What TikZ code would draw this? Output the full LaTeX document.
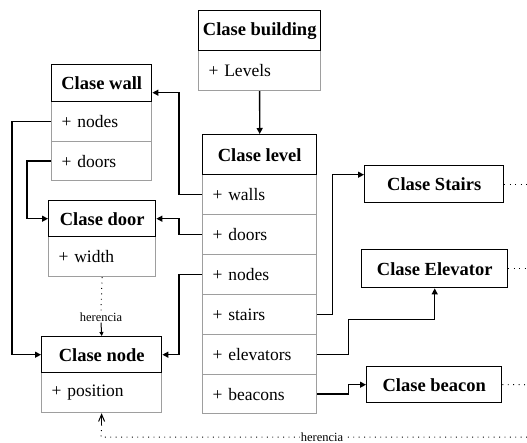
\documentclass[tikz,border=0pt]{standalone}
\usepackage{fontspec}
\setmainfont{Liberation Serif}
\usetikzlibrary{arrows.meta,calc}
\begin{document}
\begin{tikzpicture}[x=1pt,y=-1pt,
  hdr/.style={draw=black,line width=1.4pt,fill=white,anchor=north west,inner sep=0pt,
    font=\bfseries\fontsize{18.5}{20}\selectfont},
  rowbox/.style={draw=black!38,line width=1.2pt,anchor=north west,inner xsep=10pt,inner ysep=0pt,
    text width=#1-20pt,minimum width=#1,align=left,font=\fontsize{17.5}{20}\selectfont},
  conn/.style={line width=1.3pt,-{Triangle[length=6pt,width=6pt]}},
  dots/.style={line width=1pt,dash pattern=on 0.9pt off 4.5pt},
  lbl/.style={font=\fontsize{12.5}{14}\selectfont,inner sep=1pt,fill=white}
]
\useasboundingbox (0,0) rectangle (527,443);
% building
\node[rowbox=122pt,minimum height=40pt] (br) at (198,50) {+ Levels};
\node[hdr,minimum width=122pt,minimum height=40pt] (bh) at (198,10) {Clase building};
% level
\node[rowbox=114pt,minimum height=40pt] (lwalls) at (202,174) {+ walls};
\node[rowbox=114pt,minimum height=40pt] (ldoors) at (202,214) {+ doors};
\node[rowbox=114pt,minimum height=40pt] (lnodes) at (202,254) {+ nodes};
\node[rowbox=114pt,minimum height=40pt] (lstairs) at (202,294) {+ stairs};
\node[rowbox=114pt,minimum height=40pt] (lelev) at (202,334) {+ elevators};
\node[rowbox=114pt,minimum height=39pt] (lbeac) at (202,374) {+ beacons};
\node[hdr,minimum width=114pt,minimum height=40pt] (lh) at (202,134) {Clase level};
% wall
\node[rowbox=100pt,minimum height=40pt] (wnodes) at (51,101) {+ nodes};
\node[rowbox=100pt,minimum height=39pt] (wdoors) at (51,141) {+ doors};
\node[hdr,minimum width=100pt,minimum height=37pt] (wh) at (51,64) {Clase wall};
% door
\node[rowbox=107pt,minimum height=40pt] (dw) at (48,236) {+ width};
\node[hdr,minimum width=107pt,minimum height=36pt] (dh) at (48,200) {Clase door};
% node
\node[rowbox=120pt,minimum height=40pt] (np) at (41,372) {+ position};
\node[hdr,minimum width=120pt,minimum height=36pt] (nh) at (41,336) {Clase node};
% right classes
\node[hdr,minimum width=139pt,minimum height=37pt] (sh) at (364,165) {Clase Stairs};
\node[hdr,minimum width=146pt,minimum height=38pt] (eh) at (361,249) {Clase Elevator};
\node[hdr,minimum width=135pt,minimum height=36pt] (beh) at (366,366) {Clase beacon};
% connectors
\draw[conn] (br.south) -- (lh.north);
\draw[conn] (lwalls.west) -- ++(-23,0) |- ([yshift=-9.5pt]wh.east);
\draw[conn] (ldoors.west) -- ++(-23,0) |- (dh.east);
\draw[conn] (lnodes.west) -- ++(-23,0) |- (nh.east);
\draw[conn] (wnodes.west) -- ++(-39,0) |- (nh.west);
\draw[conn] (wdoors.west) -- ++(-24,0) |- (dh.west);
\draw[conn] (lstairs.east) -- ++(15,0) |- ([yshift=9.5pt]sh.west);
\draw[conn] (lelev.east) -- ++(31,0) |- ($(eh.south)+(0,31)$) -- (eh.south);
\draw[conn] (lbeac.east) -- ++(31,0) |- (beh.west);
% inheritance
\draw[dots] (sh.east) -- ++(30,0);
\draw[dots] (eh.east) -- ++(25,0);
\draw[dots] (beh.east) -- ++(22,0) -- ++(6,3);
\node[lbl] (h1) at (101,317) {herencia};
\draw[dots] (dw.south) -- (h1.north);
\draw[line width=1pt,-{Triangle[length=4pt,width=4pt]}] (h1.south) -- (nh.north);
\coordinate (c1) at (527,437);
\coordinate (c2) at (101,437);
\draw[dots] (c1) -- (c2) -- ($(np.south)+(0,12)$);
\draw[line width=1pt,-{Straight Barb[length=7pt,width=6pt]}] ($(np.south)+(0,12)$) -- (np.south);
\node[lbl] (h2) at (322,437) {herencia};
\end{tikzpicture}
\end{document}
